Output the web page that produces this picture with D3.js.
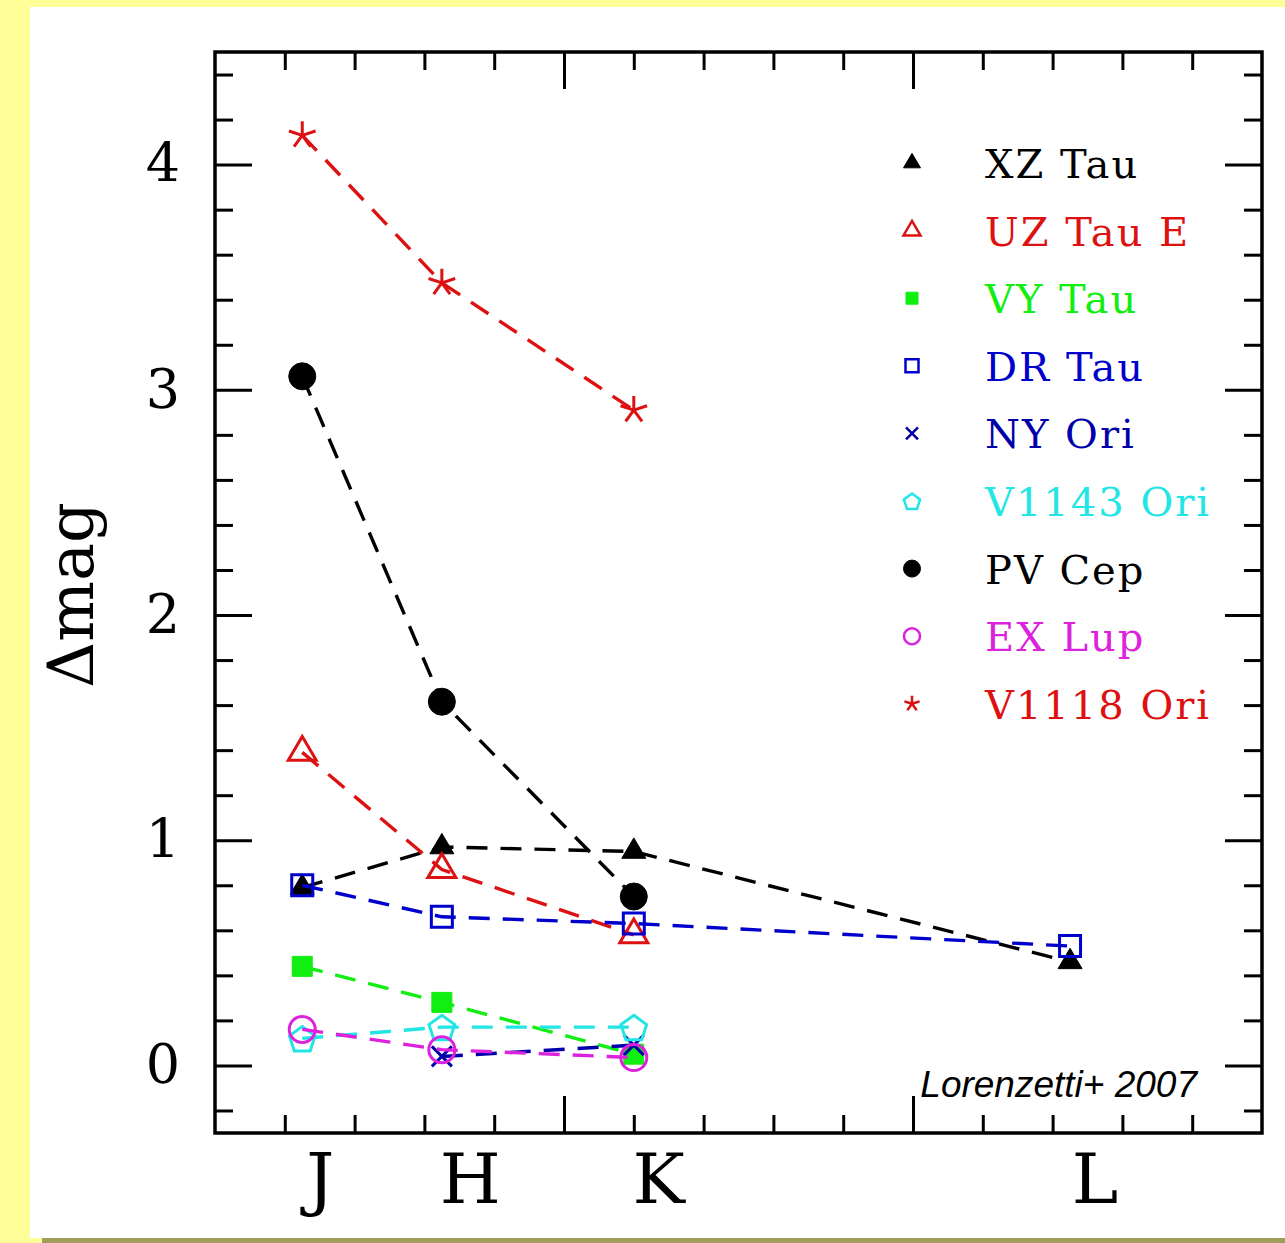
<!DOCTYPE html>
<html>
<head>
<meta charset="utf-8">
<script src="https://cdn.jsdelivr.net/npm/d3@7"></script>
<style>
  body { margin: 0; background: #ffff99; }
  svg { display: block; }
</style>
</head>
<body>
<div id="chart"></div>
<script>
// photometric bands and their wavelengths (micron)
const bands = ["J", "H", "K", "L"];
const wavelengths = [1.25, 1.65, 2.2, 3.45];
const bandLabelPos = [1.30, 1.73, 2.27, 3.52];

const starNames = ["XZ Tau", "UZ Tau E", "VY Tau", "DR Tau", "NY Ori", "V1143 Ori", "PV Cep", "EX Lup", "V1118 Ori"];
const starColors = ["#000000", "#dd1111", "#11ee11", "#0000cc", "#0000aa", "#22e5e5", "#000000", "#dd22dd", "#dd1111"];
const starMarkers = ["triFill", "triOpen", "sqFill", "sqOpen", "cross", "pent", "dotFill", "ring", "aster"];

// delta mag per band (J, H, K, L), null = no data
const xzTau    = [0.79, 0.97, 0.95, 0.46];
const uzTauE   = [1.39, 0.87, 0.58, null];
const vyTau    = [0.44, 0.28, 0.05, null];
const drTau    = [0.80, 0.66, 0.63, 0.53];
const nyOri    = [null, 0.04, 0.09, null];
const v1143Ori = [0.12, 0.17, 0.17, null];
const pvCep    = [3.06, 1.615, 0.75, null];
const exLup    = [0.16, 0.07, 0.035, null];
const v1118Ori = [4.13, 3.475, 2.91, null];

const allSeries = [xzTau, uzTauE, vyTau, drTau, nyOri, v1143Ori, pvCep, exLup, v1118Ori];

const width = 1285;
const height = 1243;
const plot = {left: 215, right: 1262, top: 52, bottom: 1133};

const svg = d3.select("#chart")
  .append("svg")
  .attr("width", width)
  .attr("height", height);

// page background
svg.append("rect").attr("width", width).attr("height", height).attr("fill", "#ffff99");
svg.append("rect").attr("x", 30).attr("y", 7).attr("width", width - 30).attr("height", 1231).attr("fill", "#ffffff");
svg.append("rect").attr("x", 42).attr("y", 1238).attr("width", width - 42).attr("height", 5).attr("fill", "#a39d5d");

const x = d3.scaleLinear().domain([1, 4]).range([plot.left, plot.right]);
const y = d3.scaleLinear().domain([-0.3, 4.5]).range([plot.bottom, plot.top]);

const xMajor = [2, 3];
const xMinor = d3.range(1.2, 3.9, 0.2).filter(v => Math.abs(v - Math.round(v)) > 0.01);
const yMajor = [0, 1, 2, 3, 4];
const yMinor = d3.range(-0.2, 4.5, 0.2).filter(v => Math.abs(v - Math.round(v)) > 0.01);

function styleAxis(g) {
  g.select(".domain").remove();
  g.selectAll(".tick line").attr("stroke", "#000").attr("stroke-width", 3);
}

// inward ticks on all four sides
const sides = [
  {axis: d3.axisBottom, scale: x, tr: `translate(0,${plot.bottom})`, maj: xMajor, min: xMinor},
  {axis: d3.axisTop, scale: x, tr: `translate(0,${plot.top})`, maj: xMajor, min: xMinor},
  {axis: d3.axisLeft, scale: y, tr: `translate(${plot.left},0)`, maj: yMajor, min: yMinor},
  {axis: d3.axisRight, scale: y, tr: `translate(${plot.right},0)`, maj: yMajor, min: yMinor}
];
sides.forEach(s => {
  svg.append("g").attr("transform", s.tr)
    .call(s.axis(s.scale).tickValues(s.min).tickSize(-18).tickFormat(""))
    .call(styleAxis);
  svg.append("g").attr("transform", s.tr)
    .call(s.axis(s.scale).tickValues(s.maj).tickSize(-37).tickFormat(""))
    .call(styleAxis);
});

// y tick labels
svg.append("g")
  .attr("transform", `translate(${plot.left},0)`)
  .call(d3.axisLeft(y).tickValues(yMajor).tickSize(0).tickPadding(35).tickFormat(d3.format("d")))
  .call(g => g.select(".domain").remove())
  .selectAll("text")
  .attr("font-family", "DejaVu Serif")
  .attr("font-size", 54)
  .attr("fill", "#000");

// band labels
svg.append("g")
  .attr("transform", `translate(0,${plot.bottom})`)
  .call(d3.axisBottom(x).tickValues(bandLabelPos).tickSize(0).tickPadding(20).tickFormat((d, i) => bands[i]))
  .call(g => g.select(".domain").remove())
  .selectAll("text")
  .attr("font-family", "DejaVu Serif")
  .attr("font-size", 70)
  .attr("fill", "#000");

// frame
svg.append("rect")
  .attr("x", plot.left).attr("y", plot.top)
  .attr("width", plot.right - plot.left).attr("height", plot.bottom - plot.top)
  .attr("fill", "none").attr("stroke", "#000").attr("stroke-width", 3.5);

// y title
svg.append("text")
  .attr("transform", "translate(93,595) rotate(-90)")
  .attr("text-anchor", "middle")
  .attr("font-family", "DejaVu Serif")
  .attr("font-size", 64)
  .text("Δmag");

// marker shapes
function markerPath(type, s) {
  const p = d3.path();
  if (type === "triFill" || type === "triOpen") {
    const w = s, h = s * 0.85;
    p.moveTo(0, -2 * h / 3); p.lineTo(w / 2, h / 3); p.lineTo(-w / 2, h / 3); p.closePath();
  } else if (type === "sqFill" || type === "sqOpen") {
    p.rect(-s / 2, -s / 2, s, s);
  } else if (type === "dotFill" || type === "ring") {
    p.arc(0, 0, s / 2, 0, 2 * Math.PI);
  } else if (type === "pent") {
    for (let k = 0; k < 5; k++) {
      const a = -Math.PI / 2 + k * 2 * Math.PI / 5;
      const px = Math.cos(a) * s / 2, py = Math.sin(a) * s / 2 + s * 0.06;
      if (k === 0) p.moveTo(px, py); else p.lineTo(px, py);
    }
    p.closePath();
  } else if (type === "cross") {
    const r = s / 2;
    p.moveTo(-r, -r); p.lineTo(r, r); p.moveTo(r, -r); p.lineTo(-r, r);
  } else if (type === "aster") {
    const r = s / 2;
    for (let k = 0; k < 5; k++) {
      const a = -Math.PI / 2 + k * 2 * Math.PI / 5;
      p.moveTo(0, 0); p.lineTo(Math.cos(a) * r, Math.sin(a) * r);
    }
  }
  return p.toString();
}
const filled = {triFill: true, sqFill: true, dotFill: true};
const plotSize = {triFill: 24, triOpen: 28, sqFill: 20, sqOpen: 21, cross: 20, pent: 27, dotFill: 27, ring: 26, aster: 28};
const legendSize = {triFill: 17, triOpen: 17, sqFill: 12, sqOpen: 13, cross: 12, pent: 17, dotFill: 17, ring: 16, aster: 16};

const line = d3.line()
  .defined(d => d.v !== null)
  .x(d => x(d.w))
  .y(d => y(d.v));

allSeries.forEach((vals, si) => {
  const pts = vals.map((v, i) => ({w: wavelengths[i], v: v}));
  const col = starColors[si];
  const g = svg.append("g").attr("class", "series");
  g.append("path")
    .attr("d", line(pts.filter(d => d.v !== null)))
    .attr("fill", "none")
    .attr("stroke", col)
    .attr("stroke-width", 3.4)
    .attr("stroke-dasharray", "21,13");
  g.selectAll("path.mark")
    .data(pts.filter(d => d.v !== null))
    .enter()
    .append("path")
    .attr("class", "mark")
    .attr("transform", d => `translate(${x(d.w)},${y(d.v)})`)
    .attr("d", markerPath(starMarkers[si], plotSize[starMarkers[si]]))
    .attr("fill", filled[starMarkers[si]] ? col : "none")
    .attr("stroke", col)
    .attr("stroke-width", filled[starMarkers[si]] ? 1 : 3);
});

// legend
const legend = svg.append("g").attr("transform", "translate(912,163)");
const items = legend.selectAll("g")
  .data(starNames)
  .enter()
  .append("g")
  .attr("transform", (d, i) => `translate(0,${i * 67.6})`);

items.append("path")
  .attr("d", (d, i) => markerPath(starMarkers[i], legendSize[starMarkers[i]]))
  .attr("fill", (d, i) => filled[starMarkers[i]] ? starColors[i] : "none")
  .attr("stroke", (d, i) => starColors[i])
  .attr("stroke-width", (d, i) => filled[starMarkers[i]] ? 1 : 2.5);

items.append("text")
  .attr("x", 73)
  .attr("y", 15)
  .attr("font-family", "DejaVu Serif")
  .attr("font-size", 40)
  .attr("letter-spacing", 2)
  .attr("fill", (d, i) => starColors[i])
  .text(d => d);

svg.append("text")
  .attr("x", 1197)
  .attr("y", 1097)
  .attr("text-anchor", "end")
  .attr("font-family", "Liberation Sans")
  .attr("font-style", "italic")
  .attr("font-size", 37)
  .text("Lorenzetti+ 2007");
</script>
</body>
</html>
